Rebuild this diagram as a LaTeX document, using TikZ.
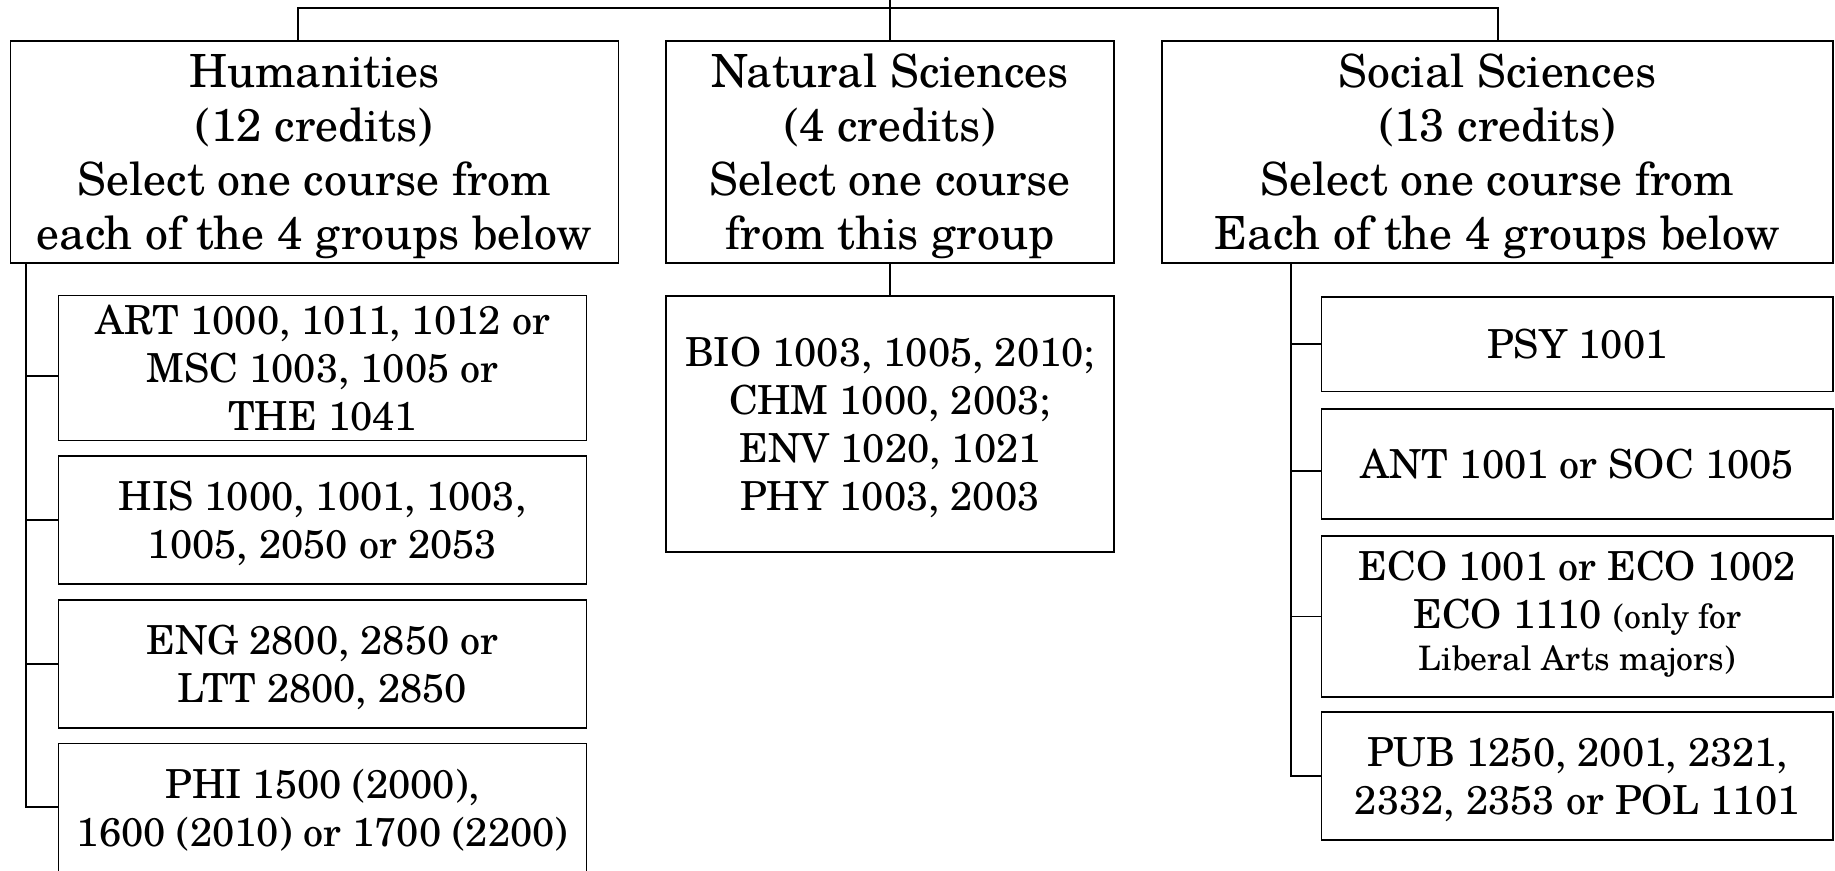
\documentclass[tikz,border=0pt]{standalone}
\usepackage{fontspec}
\setmainfont{texgyreschola}[Extension=.otf,UprightFont=*-regular,BoldFont=*-bold,ItalicFont=*-italic,BoldItalicFont=*-bolditalic]
\newcommand{\Tst}{\rule{0pt}{0.98em}}
\newcommand{\Bst}{\rule[-0.25em]{0pt}{0.25em}}
\begin{document}
\begin{tikzpicture}[x=0.35pt,y=-0.35pt,
  box/.style={draw, line width=0.6pt, inner sep=0pt, align=center},
  head/.style={box, font=\fontsize{16}{18.9}\selectfont, minimum height=222*0.35pt},
  course/.style={box, font=\fontsize{14}{16.8}\selectfont},
  link/.style={line width=0.6pt}]
\useasboundingbox (0,0) rectangle (1835,870);

% header boxes
\node[head, minimum width=608*0.35pt] (hum) at (314.5,152)
  {\Tst Humanities\\(12 credits)\\Select one course from\\each of the 4 groups below\Bst};
\node[head, minimum width=448*0.35pt] (nat) at (890,152)
  {\Tst Natural Sciences\\(4 credits)\\Select one course\\from this group\Bst};
\node[head, minimum width=671*0.35pt] (soc) at (1497.5,152)
  {\Tst Social Sciences\\(13 credits)\\Select one course from\\Each of the 4 groups below\Bst};

% humanities groups
\node[course, minimum width=528*0.35pt, minimum height=144*0.35pt] (art) at (322.5,368)
  {\Tst ART 1000, 1011, 1012 or\\MSC 1003, 1005 or\\THE 1041\Bst};
\node[course, minimum width=528*0.35pt, minimum height=128*0.35pt] (his) at (322.5,520)
  {\Tst HIS 1000, 1001, 1003,\\1005, 2050 or 2053\Bst};
\node[course, minimum width=528*0.35pt, minimum height=148*0.35pt] (phi) at (322.5,817.5)
  {\Tst PHI 1500 (2000),\\1600 (2010) or 1700 (2200)\rule[-10.5pt]{0pt}{10.5pt}};
\node[course, minimum width=528*0.35pt, minimum height=128*0.35pt] (eng) at (322.5,664)
  {\Tst ENG 2800, 2850 or\\LTT 2800, 2850\Bst};

% natural sciences group
\node[course, minimum width=448*0.35pt, minimum height=256*0.35pt] (natc) at (890,424)
  {\Tst BIO 1003, 1005, 2010;\\CHM 1000, 2003;\\ENV 1020, 1021\\PHY 1003, 2003\Bst};

% social sciences groups
\node[course, minimum width=511.5*0.35pt, minimum height=94.5*0.35pt] (psy) at (1577.25,344.25)
  {\Tst PSY 1001\Bst};
\node[course, minimum width=511.5*0.35pt, minimum height=110*0.35pt] (ant) at (1577.25,464)
  {\Tst ANT 1001 or SOC 1005\Bst};
\node[course, minimum width=511.5*0.35pt, minimum height=161*0.35pt] (eco) at (1577.25,616.5)
  {\Tst ECO 1001 or ECO 1002\\ECO 1110 {\fontsize{11.8}{14}\selectfont(only for}\\[-2.3pt]{\fontsize{11.8}{14}\selectfont Liberal Arts majors)}\rule[-7.5pt]{0pt}{7.5pt}};
\node[course, minimum width=511.5*0.35pt, minimum height=128*0.35pt] (pub) at (1577.25,776)
  {\Tst PUB 1250, 2001, 2321,\\2332, 2353 or POL 1101\Bst};

% top connectors
\coordinate (top) at (891,0);
\coordinate (tl) at (298,8);
\coordinate (tr) at (1498,8);
\draw[link] (nat.north |- top) -- (nat.north);
\draw[link] (hum.north -| tl) -- (tl) -- (tr) -- (soc.north -| tr);
\draw[link] (nat.south) -- (natc.north);

% humanities spine
\coordinate (hs) at (25.7,0);
\coordinate (artc) at (25.7,376);
\coordinate (phic) at (25.7,807);
\draw[link] (hum.south -| hs) -- (phic) -- (phic -| phi.west);
\draw[link] (artc) -- (artc -| art.west);
\draw[link] (hs |- his.west) -- (his.west);
\draw[link] (hs |- eng.west) -- (eng.west);

% social spine
\coordinate (ss) at (1290.7,0);
\coordinate (antc) at (1290.7,471);
\draw[link] (soc.south -| ss) -- (ss |- pub.west) -- (pub.west);
\draw[link] (ss |- psy.west) -- (psy.west);
\draw[link] (antc) -- (antc -| ant.west);
\draw[link] (ss |- eco.west) -- (eco.west);
\end{tikzpicture}
\end{document}
